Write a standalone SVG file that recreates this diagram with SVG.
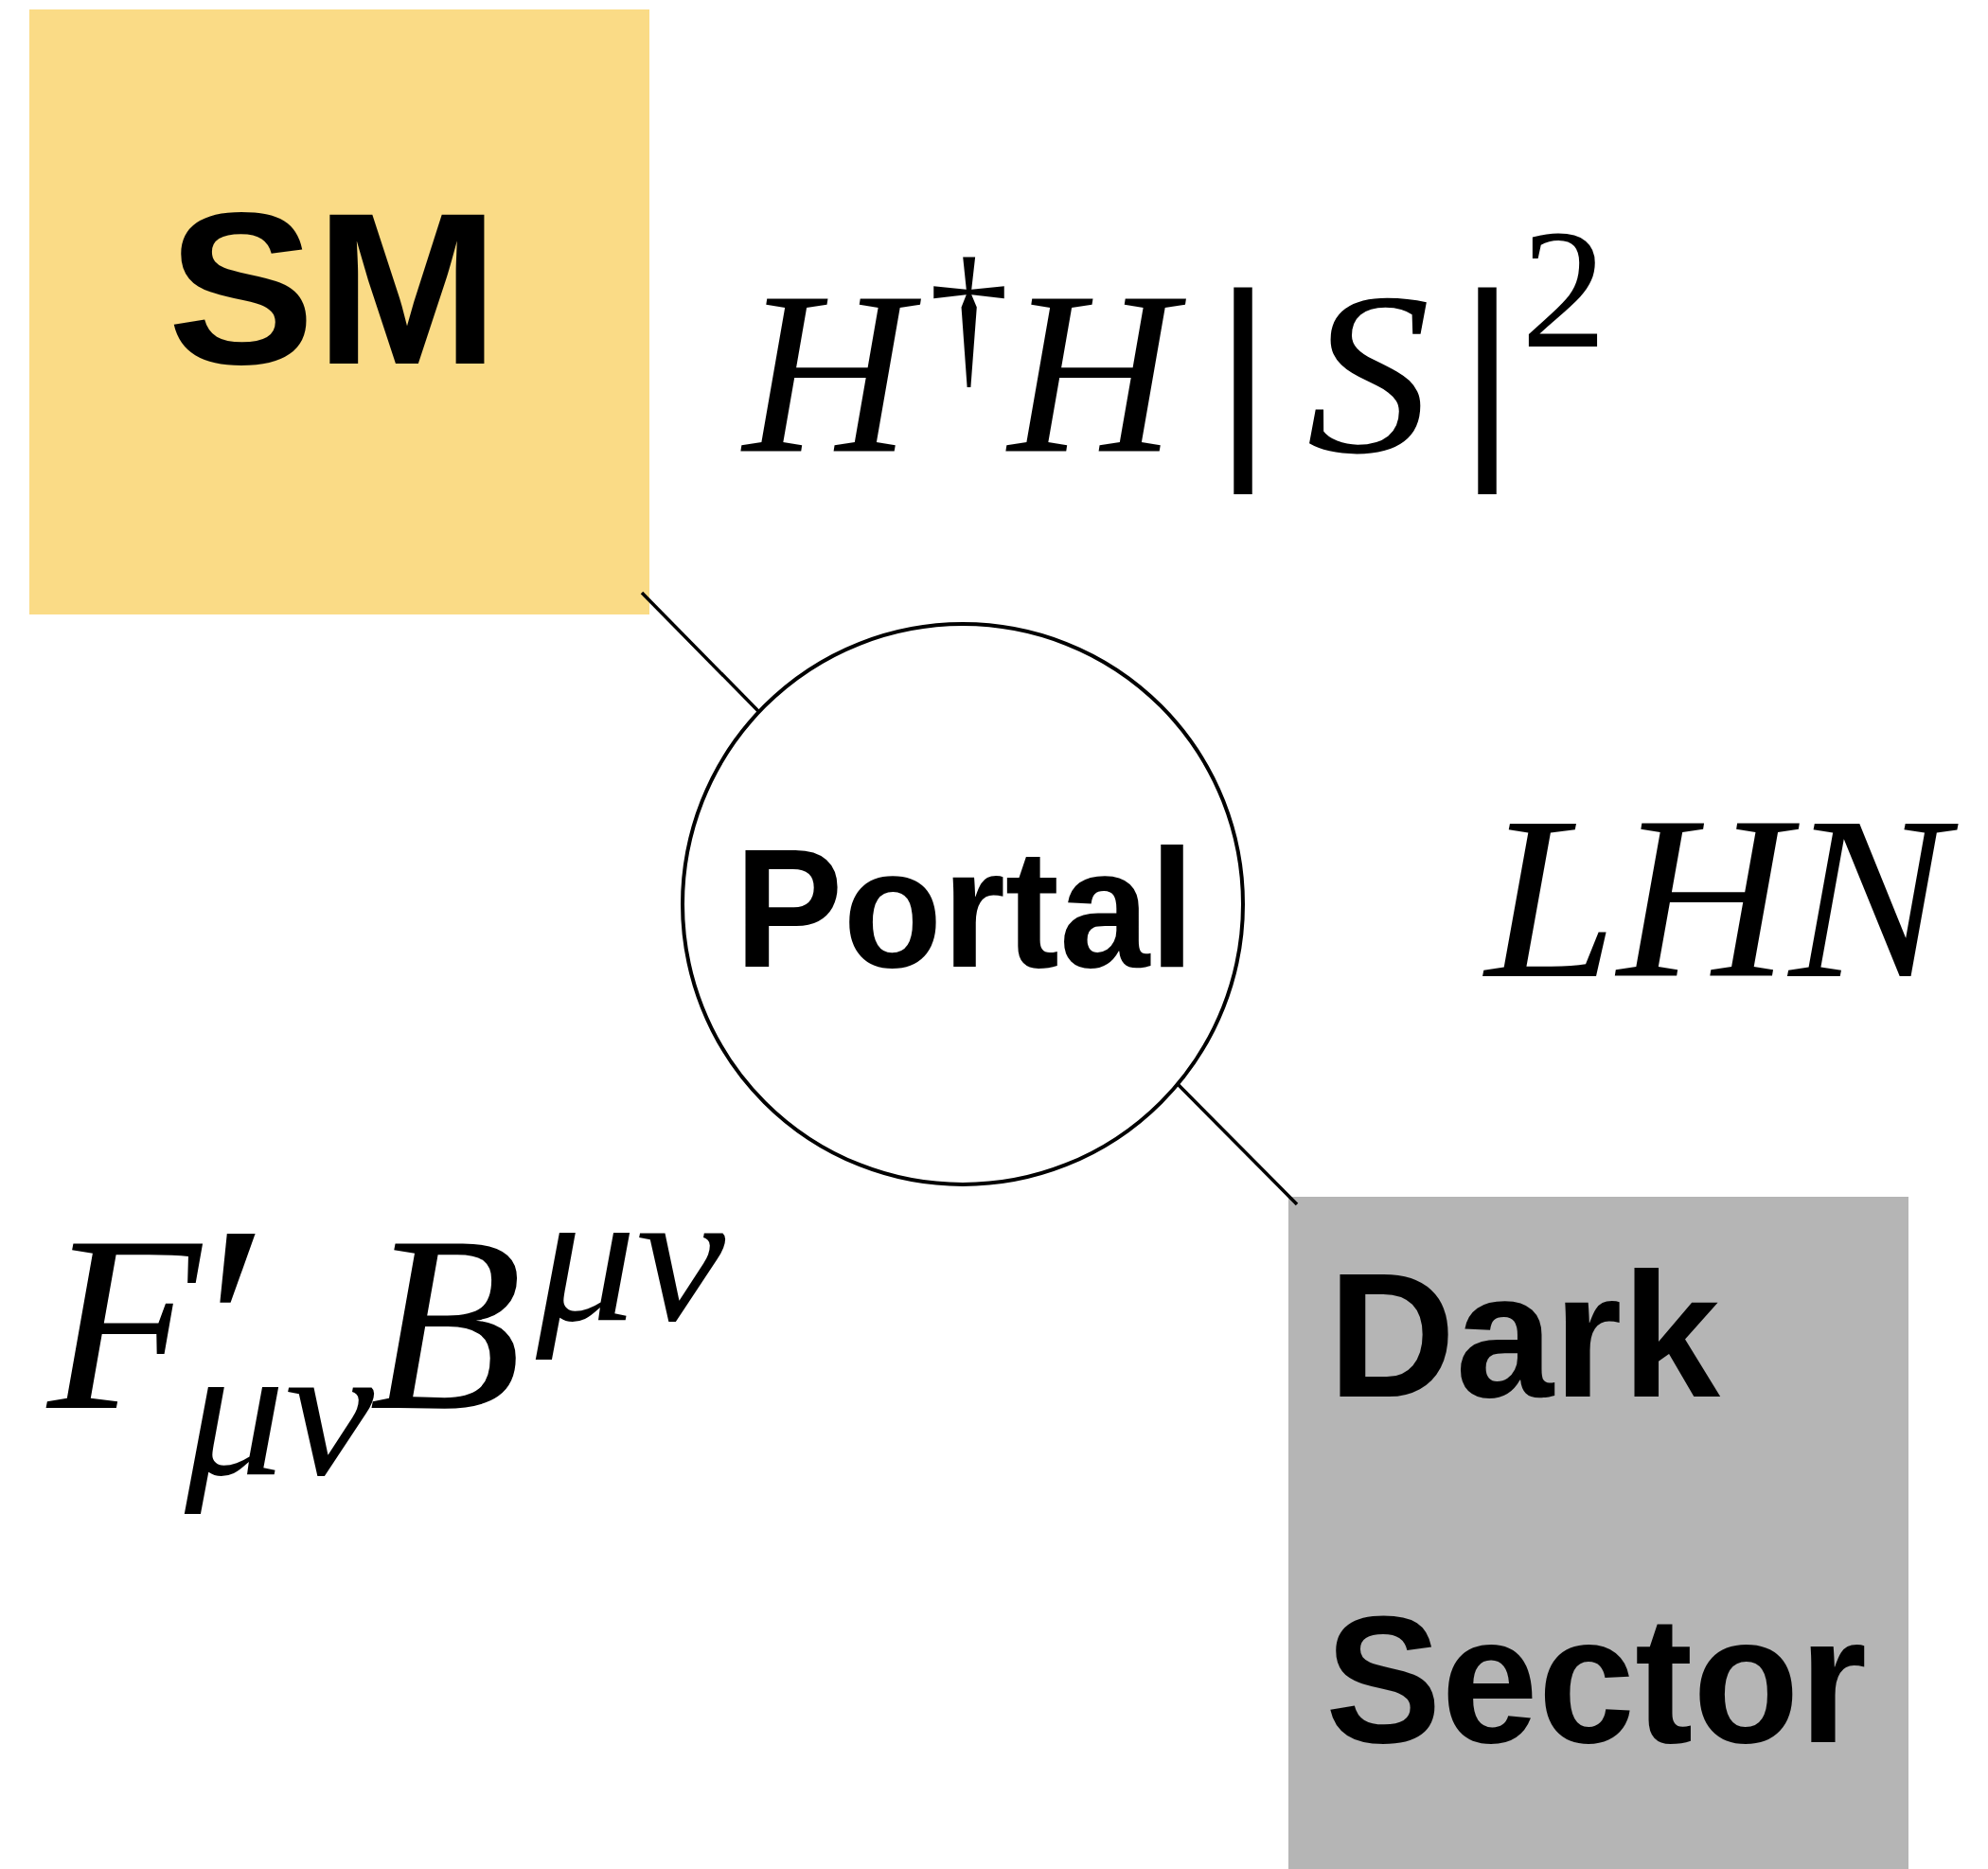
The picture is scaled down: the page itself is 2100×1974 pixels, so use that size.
<svg xmlns="http://www.w3.org/2000/svg" width="2100" height="1974" viewBox="0 0 2100 1974">
<style>
.lbl{font-family:"Liberation Sans",Arial,sans-serif;font-weight:bold;fill:#000}
.math{font-family:"Liberation Serif","Times New Roman",serif;font-style:italic;fill:#000}
.up{font-family:"Liberation Serif","Times New Roman",serif;fill:#000}
.conn{stroke:#000;stroke-width:3.5;fill:none}
</style>
<rect width="2100" height="1974" fill="#fff"/>
<g id="sm">
<rect x="31" y="10" width="655" height="639" fill="#FADB86"/>
<text class="lbl" x="177" y="384" font-size="229" textLength="350" lengthAdjust="spacingAndGlyphs">SM</text>
</g>
<g id="dark-sector">
<rect x="1361" y="1264" width="655" height="710" fill="#B5B5B5"/>
<text class="lbl" x="1403" y="1475" font-size="188" textLength="414" lengthAdjust="spacingAndGlyphs">Dark</text>
<text class="lbl" x="1400" y="1840" font-size="192" textLength="572" lengthAdjust="spacingAndGlyphs">Sector</text>
</g>
<g id="connectors">
<line class="conn" x1="678" y1="626" x2="801" y2="751"/>
<line class="conn" x1="1244" y1="1145" x2="1370" y2="1272"/>
</g>
<g id="portal">
<circle cx="1017" cy="955" r="296" fill="#fff" stroke="#000" stroke-width="4"/>
<text class="lbl" x="776" y="1021" font-size="178" textLength="486" lengthAdjust="spacingAndGlyphs">Portal</text>
</g>
<g id="label-higgs">
<text class="math" x="785" y="477" font-size="245">H</text>
<text class="up" x="981" y="389" font-size="170">†</text>
<text class="math" x="1065" y="477" font-size="245">H</text>
<text class="up" x="1290" y="468" font-size="230" stroke="#000" stroke-width="8">|</text>
<text class="math" x="1380" y="477" font-size="245" transform="translate(1380 0) scale(1.07 1) translate(-1380 0)">S</text>
<text class="up" x="1548" y="468" font-size="230" stroke="#000" stroke-width="8">|</text>
<text class="up" x="1607" y="366" font-size="180">2</text>
</g>
<g id="label-neutrino">
<text class="math" x="1569" y="1031" font-size="245" textLength="488" lengthAdjust="spacingAndGlyphs">LHN</text>
</g>
<g id="label-kinetic">
<text class="math" x="50" y="1487" font-size="265">F</text>
<text class="math" x="198" y="1506" font-size="310">′</text>
<text class="math" x="195" y="1557" font-size="200" textLength="200" lengthAdjust="spacingAndGlyphs">μν</text>
<text class="math" x="390" y="1487" font-size="265">B</text>
<text class="math" x="566" y="1394" font-size="200" textLength="200" lengthAdjust="spacingAndGlyphs">μν</text>
</g>
</svg>
